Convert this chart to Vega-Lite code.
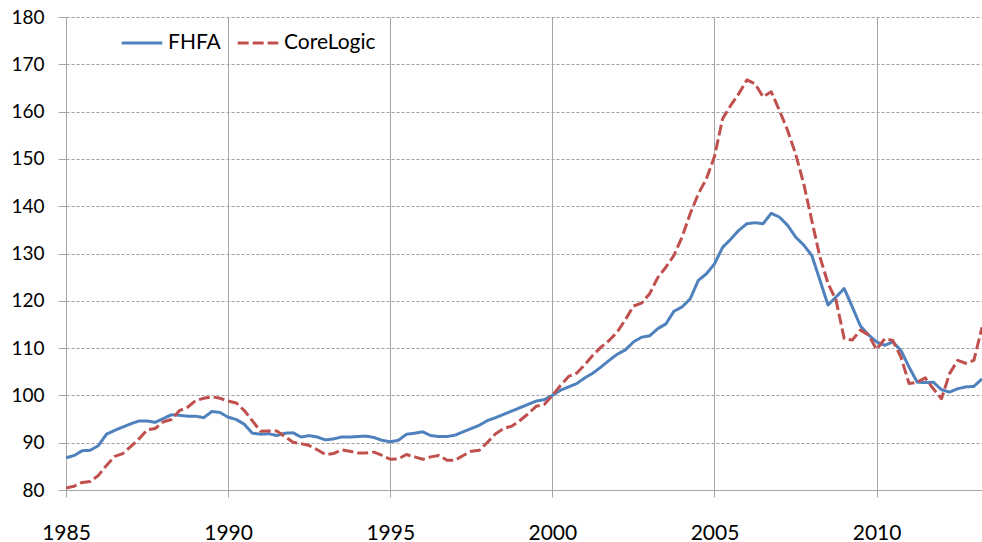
{
  "$schema": "https://vega.github.io/schema/vega-lite/v6.json",
  "width": 916,
  "height": 473,
  "autosize": {"type": "none"},
  "padding": {"left": 66, "top": 17, "right": 0, "bottom": 52},
  "background": "white",
  "config": {
    "view": {"stroke": null},
    "font": "Lato"
  },
  "data": {
    "values": [
      {"t": 1985.00, "FHFA": 86.8, "CoreLogic": 80.4},
      {"t": 1985.25, "FHFA": 87.3, "CoreLogic": 80.8},
      {"t": 1985.50, "FHFA": 88.3, "CoreLogic": 81.6},
      {"t": 1985.75, "FHFA": 88.4, "CoreLogic": 81.8},
      {"t": 1986.00, "FHFA": 89.4, "CoreLogic": 83.1},
      {"t": 1986.25, "FHFA": 91.8, "CoreLogic": 85.2},
      {"t": 1986.50, "FHFA": 92.6, "CoreLogic": 87.1},
      {"t": 1986.75, "FHFA": 93.3, "CoreLogic": 87.7},
      {"t": 1987.00, "FHFA": 94.0, "CoreLogic": 89.2},
      {"t": 1987.25, "FHFA": 94.6, "CoreLogic": 90.8},
      {"t": 1987.50, "FHFA": 94.6, "CoreLogic": 92.7},
      {"t": 1987.75, "FHFA": 94.3, "CoreLogic": 93.0},
      {"t": 1988.00, "FHFA": 95.1, "CoreLogic": 94.4},
      {"t": 1988.25, "FHFA": 95.9, "CoreLogic": 94.9},
      {"t": 1988.50, "FHFA": 95.8, "CoreLogic": 96.8},
      {"t": 1988.75, "FHFA": 95.6, "CoreLogic": 97.5},
      {"t": 1989.00, "FHFA": 95.6, "CoreLogic": 98.9},
      {"t": 1989.25, "FHFA": 95.3, "CoreLogic": 99.4},
      {"t": 1989.50, "FHFA": 96.6, "CoreLogic": 99.7},
      {"t": 1989.75, "FHFA": 96.4, "CoreLogic": 99.4},
      {"t": 1990.00, "FHFA": 95.4, "CoreLogic": 98.8},
      {"t": 1990.25, "FHFA": 94.9, "CoreLogic": 98.4},
      {"t": 1990.50, "FHFA": 93.9, "CoreLogic": 96.8},
      {"t": 1990.75, "FHFA": 92.0, "CoreLogic": 94.6},
      {"t": 1991.00, "FHFA": 91.8, "CoreLogic": 92.4},
      {"t": 1991.25, "FHFA": 91.9, "CoreLogic": 92.5},
      {"t": 1991.50, "FHFA": 91.5, "CoreLogic": 92.5},
      {"t": 1991.75, "FHFA": 92.0, "CoreLogic": 91.3},
      {"t": 1992.00, "FHFA": 92.1, "CoreLogic": 90.1},
      {"t": 1992.25, "FHFA": 91.2, "CoreLogic": 89.8},
      {"t": 1992.50, "FHFA": 91.5, "CoreLogic": 89.4},
      {"t": 1992.75, "FHFA": 91.2, "CoreLogic": 88.5},
      {"t": 1993.00, "FHFA": 90.6, "CoreLogic": 87.5},
      {"t": 1993.25, "FHFA": 90.8, "CoreLogic": 87.7},
      {"t": 1993.50, "FHFA": 91.2, "CoreLogic": 88.5},
      {"t": 1993.75, "FHFA": 91.2, "CoreLogic": 88.2},
      {"t": 1994.00, "FHFA": 91.3, "CoreLogic": 87.8},
      {"t": 1994.25, "FHFA": 91.4, "CoreLogic": 87.8},
      {"t": 1994.50, "FHFA": 91.1, "CoreLogic": 88.0},
      {"t": 1994.75, "FHFA": 90.5, "CoreLogic": 87.3},
      {"t": 1995.00, "FHFA": 90.2, "CoreLogic": 86.5},
      {"t": 1995.25, "FHFA": 90.5, "CoreLogic": 86.6},
      {"t": 1995.50, "FHFA": 91.8, "CoreLogic": 87.5},
      {"t": 1995.75, "FHFA": 92.0, "CoreLogic": 87.0},
      {"t": 1996.00, "FHFA": 92.3, "CoreLogic": 86.5},
      {"t": 1996.25, "FHFA": 91.5, "CoreLogic": 87.0},
      {"t": 1996.50, "FHFA": 91.3, "CoreLogic": 87.3},
      {"t": 1996.75, "FHFA": 91.3, "CoreLogic": 86.3},
      {"t": 1997.00, "FHFA": 91.6, "CoreLogic": 86.3},
      {"t": 1997.25, "FHFA": 92.3, "CoreLogic": 87.3},
      {"t": 1997.50, "FHFA": 93.0, "CoreLogic": 88.2},
      {"t": 1997.75, "FHFA": 93.7, "CoreLogic": 88.4},
      {"t": 1998.00, "FHFA": 94.7, "CoreLogic": 90.1},
      {"t": 1998.25, "FHFA": 95.3, "CoreLogic": 91.9},
      {"t": 1998.50, "FHFA": 96.0, "CoreLogic": 93.0},
      {"t": 1998.75, "FHFA": 96.7, "CoreLogic": 93.5},
      {"t": 1999.00, "FHFA": 97.4, "CoreLogic": 94.7},
      {"t": 1999.25, "FHFA": 98.1, "CoreLogic": 96.1},
      {"t": 1999.50, "FHFA": 98.8, "CoreLogic": 97.7},
      {"t": 1999.75, "FHFA": 99.1, "CoreLogic": 98.1},
      {"t": 2000.00, "FHFA": 100.0, "CoreLogic": 100.0},
      {"t": 2000.25, "FHFA": 101.1, "CoreLogic": 102.1},
      {"t": 2000.50, "FHFA": 101.8, "CoreLogic": 104.0},
      {"t": 2000.75, "FHFA": 102.5, "CoreLogic": 104.7},
      {"t": 2001.00, "FHFA": 103.7, "CoreLogic": 106.5},
      {"t": 2001.25, "FHFA": 104.7, "CoreLogic": 108.5},
      {"t": 2001.50, "FHFA": 106.0, "CoreLogic": 110.2},
      {"t": 2001.75, "FHFA": 107.4, "CoreLogic": 111.6},
      {"t": 2002.00, "FHFA": 108.7, "CoreLogic": 113.4},
      {"t": 2002.25, "FHFA": 109.6, "CoreLogic": 116.0},
      {"t": 2002.50, "FHFA": 111.3, "CoreLogic": 118.9},
      {"t": 2002.75, "FHFA": 112.3, "CoreLogic": 119.5},
      {"t": 2003.00, "FHFA": 112.6, "CoreLogic": 121.5},
      {"t": 2003.25, "FHFA": 114.1, "CoreLogic": 124.9},
      {"t": 2003.50, "FHFA": 115.1, "CoreLogic": 127.1},
      {"t": 2003.75, "FHFA": 117.8, "CoreLogic": 129.6},
      {"t": 2004.00, "FHFA": 118.7, "CoreLogic": 133.5},
      {"t": 2004.25, "FHFA": 120.4, "CoreLogic": 138.4},
      {"t": 2004.50, "FHFA": 124.3, "CoreLogic": 142.6},
      {"t": 2004.75, "FHFA": 125.7, "CoreLogic": 145.8},
      {"t": 2005.00, "FHFA": 127.8, "CoreLogic": 150.5},
      {"t": 2005.25, "FHFA": 131.3, "CoreLogic": 158.5},
      {"t": 2005.50, "FHFA": 133.0, "CoreLogic": 161.3},
      {"t": 2005.75, "FHFA": 134.9, "CoreLogic": 163.8},
      {"t": 2006.00, "FHFA": 136.3, "CoreLogic": 166.7},
      {"t": 2006.25, "FHFA": 136.5, "CoreLogic": 165.9},
      {"t": 2006.50, "FHFA": 136.3, "CoreLogic": 163.1},
      {"t": 2006.75, "FHFA": 138.5, "CoreLogic": 164.2},
      {"t": 2007.00, "FHFA": 137.7, "CoreLogic": 160.3},
      {"t": 2007.25, "FHFA": 136.0, "CoreLogic": 156.1},
      {"t": 2007.50, "FHFA": 133.5, "CoreLogic": 151.1},
      {"t": 2007.75, "FHFA": 131.8, "CoreLogic": 144.8},
      {"t": 2008.00, "FHFA": 129.6, "CoreLogic": 137.0},
      {"t": 2008.25, "FHFA": 124.4, "CoreLogic": 129.3},
      {"t": 2008.50, "FHFA": 119.1, "CoreLogic": 123.7},
      {"t": 2008.75, "FHFA": 120.8, "CoreLogic": 120.1},
      {"t": 2009.00, "FHFA": 122.6, "CoreLogic": 112.0},
      {"t": 2009.25, "FHFA": 118.7, "CoreLogic": 111.7},
      {"t": 2009.50, "FHFA": 114.7, "CoreLogic": 113.8},
      {"t": 2009.75, "FHFA": 112.8, "CoreLogic": 112.8},
      {"t": 2010.00, "FHFA": 111.3, "CoreLogic": 109.7},
      {"t": 2010.25, "FHFA": 110.6, "CoreLogic": 112.0},
      {"t": 2010.50, "FHFA": 111.3, "CoreLogic": 111.6},
      {"t": 2010.75, "FHFA": 109.5, "CoreLogic": 108.1},
      {"t": 2011.00, "FHFA": 106.0, "CoreLogic": 102.5},
      {"t": 2011.25, "FHFA": 102.8, "CoreLogic": 102.8},
      {"t": 2011.50, "FHFA": 102.7, "CoreLogic": 103.7},
      {"t": 2011.75, "FHFA": 102.8, "CoreLogic": 101.4},
      {"t": 2012.00, "FHFA": 101.2, "CoreLogic": 99.3},
      {"t": 2012.25, "FHFA": 100.7, "CoreLogic": 104.6},
      {"t": 2012.50, "FHFA": 101.4, "CoreLogic": 107.4},
      {"t": 2012.75, "FHFA": 101.8, "CoreLogic": 106.8},
      {"t": 2013.00, "FHFA": 101.9, "CoreLogic": 107.4},
      {"t": 2013.25, "FHFA": 103.5, "CoreLogic": 114.4}
    ]
  },
  "transform": [
    {"fold": ["FHFA", "CoreLogic"], "as": ["series", "value"]}
  ],
  "mark": {"type": "line", "strokeWidth": 3, "strokeJoin": "round", "clip": true},
  "encoding": {
    "x": {
      "field": "t",
      "type": "quantitative",
      "scale": {"domain": [1985, 2013.25], "nice": false, "zero": false},
      "axis": {
        "title": null,
        "values": [1985, 1990, 1995, 2000, 2005, 2010],
        "format": "d",
        "grid": true,
        "gridColor": "#a6a6a6",
        "gridWidth": 1,
        "domain": true,
        "domainColor": "#a6a6a6",
        "domainWidth": 1,
        "ticks": true,
        "tickColor": "#a6a6a6",
        "tickSize": 7,
        "labelFont": "Lato",
        "labelFontSize": 21,
        "labelColor": "#000000",
        "labelPadding": 25,
        "labelFlush": false,
        "labelOverlap": false
      }
    },
    "y": {
      "field": "value",
      "type": "quantitative",
      "scale": {"domain": [80, 180], "nice": false, "zero": false},
      "axis": {
        "title": null,
        "values": [80, 90, 100, 110, 120, 130, 140, 150, 160, 170, 180],
        "grid": true,
        "gridColor": "#a0a0a0",
        "gridDash": [3, 2],
        "gridWidth": 1,
        "domain": false,
        "ticks": true,
        "tickColor": "#a6a6a6",
        "tickSize": 8,
        "labelFont": "Lato",
        "labelFontSize": 19,
        "labelColor": "#000000",
        "labelPadding": 14,
        "labelFlush": false,
        "labelOverlap": false
      }
    },
    "color": {
      "field": "series",
      "type": "nominal",
      "scale": {"domain": ["FHFA", "CoreLogic"], "range": ["#4f81bd", "#c0504d"]},
      "legend": {
        "orient": "none",
        "legendX": 54,
        "legendY": 4,
        "direction": "horizontal",
        "title": null,
        "symbolType": "stroke",
        "symbolSize": 1650,
        "symbolStrokeWidth": 3,
        "labelFont": "Lato",
        "labelFontSize": 21,
        "labelColor": "#000000",
        "labelOffset": 4,
        "columnPadding": 10,
        "padding": 0
      }
    },
    "strokeDash": {
      "field": "series",
      "type": "nominal",
      "scale": {"domain": ["FHFA", "CoreLogic"], "range": [[1, 0], [11, 4]]},
      "legend": {
        "orient": "none",
        "legendX": 54,
        "legendY": 4,
        "direction": "horizontal",
        "title": null,
        "symbolType": "stroke",
        "symbolSize": 1650,
        "symbolStrokeWidth": 3,
        "labelFont": "Lato",
        "labelFontSize": 21,
        "labelColor": "#000000",
        "labelOffset": 4,
        "columnPadding": 10,
        "padding": 0
      }
    }
  }
}
